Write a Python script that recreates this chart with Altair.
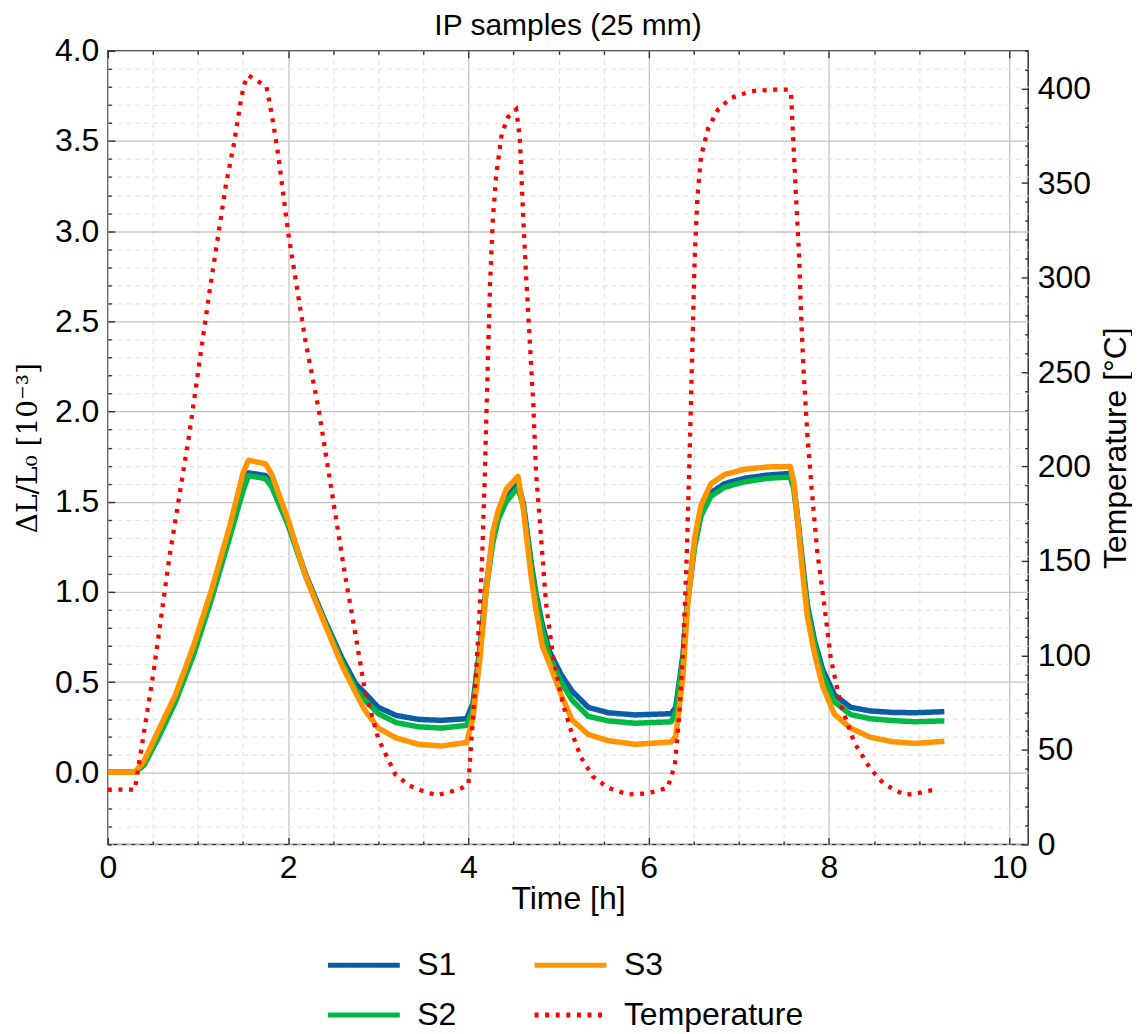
import altair as alt
import pandas as pd

# ---------------- data ----------------
t_strain = [0.00, 0.30, 0.40, 0.55, 0.75, 0.95, 1.15, 1.35, 1.50, 1.56,
            1.75, 1.82, 2.00, 2.20, 2.40, 2.60, 2.75, 2.85, 3.00, 3.20,
            3.45, 3.70, 3.98, 4.05, 4.13, 4.20, 4.27, 4.33, 4.42, 4.55,
            4.61, 4.65, 4.70, 4.75, 4.82, 4.90, 5.03, 5.15, 5.33, 5.55,
            5.85, 6.25, 6.30, 6.38, 6.43, 6.51, 6.58, 6.69, 6.84, 7.06,
            7.32, 7.57, 7.61, 7.66, 7.71, 7.76, 7.84, 7.93, 8.06, 8.24,
            8.46, 8.70, 8.95, 9.28]

s1 = [0.00, 0.00, 0.04, 0.19, 0.40, 0.66, 0.97, 1.31, 1.58, 1.66,
      1.645, 1.60, 1.38, 1.09, 0.85, 0.63, 0.49, 0.44, 0.36, 0.315,
      0.293, 0.288, 0.297, 0.38, 0.70, 1.04, 1.29, 1.42, 1.52, 1.60,
      1.49, 1.34, 1.15, 0.99, 0.82, 0.67, 0.54, 0.45, 0.36, 0.33,
      0.318, 0.325, 0.36, 0.65, 0.95, 1.27, 1.44, 1.55, 1.60, 1.63,
      1.648, 1.657, 1.59, 1.38, 1.15, 0.93, 0.73, 0.57, 0.43, 0.36,
      0.34, 0.332, 0.33, 0.336]

s2 = [0.00, 0.00, 0.04, 0.18, 0.39, 0.65, 0.96, 1.30, 1.56, 1.645,
      1.628, 1.58, 1.37, 1.08, 0.84, 0.61, 0.46, 0.40, 0.325, 0.275,
      0.252, 0.245, 0.26, 0.35, 0.68, 1.02, 1.27, 1.40, 1.50, 1.58,
      1.47, 1.32, 1.13, 0.97, 0.79, 0.64, 0.50, 0.40, 0.31, 0.285,
      0.272, 0.28, 0.33, 0.63, 0.93, 1.25, 1.42, 1.53, 1.58, 1.61,
      1.63, 1.637, 1.57, 1.36, 1.13, 0.91, 0.71, 0.54, 0.39, 0.32,
      0.297, 0.287, 0.28, 0.285]

s3 = [0.00, 0.00, 0.06, 0.22, 0.43, 0.70, 1.01, 1.36, 1.66, 1.73,
      1.71, 1.65, 1.40, 1.08, 0.83, 0.59, 0.44, 0.345, 0.245, 0.19,
      0.155, 0.146, 0.165, 0.30, 0.64, 1.02, 1.33, 1.45, 1.57, 1.64,
      1.46, 1.28, 1.07, 0.90, 0.70, 0.60, 0.43, 0.29, 0.21, 0.175,
      0.155, 0.168, 0.20, 0.53, 0.915, 1.30, 1.48, 1.60, 1.65, 1.68,
      1.693, 1.695, 1.61, 1.355, 1.095, 0.863, 0.657, 0.477, 0.322, 0.245,
      0.194, 0.17, 0.16, 0.172]

t_temp = [0.00, 0.30, 0.33, 0.37, 0.51, 0.68, 0.90, 1.12, 1.31, 1.40,
          1.47, 1.51, 1.56, 1.66, 1.76, 1.82, 1.89, 2.00, 2.19, 2.34,
          2.50, 2.63, 2.74, 2.85, 3.00, 3.19, 3.35, 3.48, 3.65, 3.81,
          3.92, 4.00, 4.03, 4.07, 4.11, 4.15, 4.18, 4.20, 4.22, 4.24,
          4.27, 4.31, 4.37, 4.44, 4.53, 4.57, 4.61, 4.64, 4.68, 4.72,
          4.75, 4.81, 4.86, 4.94, 5.05, 5.14, 5.25, 5.38, 5.55, 5.77,
          5.99, 6.21, 6.29, 6.34, 6.38, 6.42, 6.45, 6.47, 6.49, 6.51,
          6.54, 6.58, 6.66, 6.77, 6.91, 7.13, 7.38, 7.55, 7.58, 7.60,
          7.63, 7.67, 7.69, 7.72, 7.76, 7.81, 7.87, 7.95, 8.02, 8.13,
          8.28, 8.46, 8.61, 8.83, 8.94, 9.07, 9.18]

temp = [29, 29, 38, 50, 92, 151, 216, 290, 349, 371,
        392, 402, 407, 404, 401, 386, 365, 324, 267, 230,
        182, 143, 113, 82, 56, 37, 31, 28.5, 26, 28,
        29.7, 32, 53, 80, 111, 148, 192, 228, 262, 296,
        330, 355, 376, 385, 389, 374, 330, 301, 267, 233,
        197, 160, 128, 99, 74, 60, 46, 36, 30, 26.4,
        27, 30, 42, 69, 101, 150, 199, 236, 273, 310,
        342, 364, 379, 389, 395, 398.6, 399.4, 399.5, 397, 376.5,
        347, 310, 281, 249, 217, 187, 155, 126, 98.5, 74,
        54, 40, 32, 26.4, 26.6, 28, 29]

series_order = ["S1", "S2", "S3", "Temperature"]   # legend fills column by column
series_colors = ["#0C5DA5", "#00B945", "#FF9500", "#FF0000"]
series_dash = [[1, 0], [1, 0], [1, 0], [4, 6.6]]

x_major = [0, 2, 4, 6, 8, 10]
x_minor = [v / 2 for v in range(1, 20) if v % 4 != 0]
y_major = [i / 2 for i in range(0, 9)]
y_minor = [round(i / 10, 1) for i in range(-4, 40) if i % 5 != 0]
temp_major = list(range(0, 401, 50))
temp_minor = [i for i in range(10, 421, 10) if i % 50 != 0]

# ---------------- tables ----------------
rows = []
for name, vals in (("S1", s1), ("S2", s2), ("S3", s3)):
    for t, v in zip(t_strain, vals):
        rows.append({"t": t, "v": v, "series": name})
df_strain = pd.DataFrame(rows)
df_temp = pd.DataFrame({"t": t_temp, "v": temp, "series": "Temperature"})

# ---------------- styling ----------------
FONT = "Liberation Sans"
FS = 32
AX = "#333333"
W, H = 922, 795

xs = alt.Scale(domain=[0, 10.21], nice=False, zero=False)
ys = alt.Scale(domain=[-0.4, 4.0], nice=False, zero=False)
ts = alt.Scale(domain=[0, 420], nice=False, zero=False)

leg = alt.Legend(title=None, orient="none", legendX=218, legendY=900, columns=2,
                 symbolType="stroke", symbolSize=5184, symbolStrokeWidth=5,
                 clipHeight=32, labelFont=FONT, labelFontSize=FS, labelColor="black",
                 labelLimit=400, labelOffset=15, columnPadding=75, rowPadding=18)
color = alt.Color("series:N", scale=alt.Scale(domain=series_order, range=series_colors), legend=leg)
dash = alt.StrokeDash("series:N", scale=alt.Scale(domain=series_order, range=series_dash), legend=leg)


def tick_axis(orient, values, size):
    return alt.Axis(orient=orient, values=values, labels=False, domain=False, grid=False,
                    ticks=True, tickSize=size, tickWidth=1.4, tickColor=AX, offset=-size,
                    title=None)


def grid_axis(orient, values):
    return alt.Axis(orient=orient, values=values, labels=False, domain=False, ticks=False,
                    grid=True, gridColor="#e4e4e4", gridDash=[5, 4], gridWidth=1.1, title=None)


main_x = alt.Axis(orient="bottom", values=x_major, format="d", title="Time [h]", grid=True,
                  gridColor="#c4c4c4", gridWidth=1.3, ticks=False, domain=False,
                  labelFont=FONT, labelFontSize=FS, labelColor="black", labelPadding=8,
                  labelFlush=False, labelOverlap=False,
                  titleFont=FONT, titleFontSize=FS, titleFontWeight="normal",
                  titleColor="black", titlePadding=0)
main_y = alt.Axis(orient="left", values=y_major, format=".1f", title="ΔL/L₀ [10⁻³]", grid=True,
                  gridColor="#c4c4c4", gridWidth=1.3, ticks=False, domain=False,
                  labelFont=FONT, labelFontSize=FS, labelColor="black", labelPadding=9,
                  labelFlush=False, labelOverlap=False,
                  titleFont="DejaVu Serif", titleFontSize=28, titleFontWeight="normal",
                  titleColor="black", titlePadding=12)
temp_y = alt.Axis(orient="right", values=temp_major, format="d", title="Temperature [°C]",
                  grid=False, ticks=False, domain=False,
                  labelFont=FONT, labelFontSize=FS, labelColor="black", labelPadding=9,
                  labelFlush=False, labelOverlap=False,
                  titleFont=FONT, titleFontSize=FS, titleFontWeight="normal",
                  titleColor="black", titleAngle=270, titleBaseline="top", titlePadding=10)

bs = alt.Chart(df_strain)
bt = alt.Chart(df_temp)


def X(axis):
    return alt.X("t:Q", scale=xs, axis=axis, title=None)


def YS(axis):
    return alt.Y("v:Q", scale=ys, axis=axis, title=None)


def YT(axis):
    return alt.Y("v:Q", scale=ts, axis=axis, title=None)


grid_minor = bs.mark_point(opacity=0).encode(
    x=X(grid_axis("bottom", x_minor)), y=YS(grid_axis("left", y_minor)))

LW = 5.5
line_s1 = bs.transform_filter(alt.datum.series == "S1").mark_line(
    strokeWidth=LW, strokeJoin="round").encode(
    x=alt.X("t:Q", scale=xs, axis=main_x), y=alt.Y("v:Q", scale=ys, axis=main_y),
    color=color, strokeDash=dash)
line_s2 = bs.transform_filter(alt.datum.series == "S2").mark_line(
    strokeWidth=LW, strokeJoin="round").encode(
    x=X(None), y=YS(None), color=color, strokeDash=dash)
line_s3 = bs.transform_filter(alt.datum.series == "S3").mark_line(
    strokeWidth=LW, strokeJoin="round").encode(
    x=X(None), y=YS(None), color=color, strokeDash=dash)
line_t = bt.mark_line(strokeWidth=4.3, strokeCap="butt").encode(
    x=X(None), y=alt.Y("v:Q", scale=ts, axis=temp_y),
    color=color, strokeDash=dash)

tick_lb_major = bs.mark_point(opacity=0).encode(
    x=X(tick_axis("bottom", x_major, 7)), y=YS(tick_axis("left", y_major, 7)))
tick_lb_minor = bs.mark_point(opacity=0).encode(
    x=X(tick_axis("bottom", x_minor, 3.5)), y=YS(tick_axis("left", y_minor, 3.5)))
tick_tr_major = bt.mark_point(opacity=0).encode(
    x=X(tick_axis("top", x_major, 7)), y=YT(tick_axis("right", temp_major, 7)))
tick_tr_minor = bt.mark_point(opacity=0).encode(
    x=X(tick_axis("top", x_minor, 3.5)), y=YT(tick_axis("right", temp_minor, 3.5)))

chart = alt.layer(
    grid_minor, line_s1, line_s2, line_s3, line_t,
    tick_lb_major, tick_lb_minor, tick_tr_major, tick_tr_minor
).resolve_scale(y="independent").resolve_axis(x="independent", y="independent").properties(
    width=W, height=H,
    title=alt.TitleParams("IP samples (25 mm)", font=FONT, fontSize=30, fontWeight="normal",
                          color="black", anchor="middle", offset=-6),
    padding={"left": 6, "right": 0, "top": 2, "bottom": 0},
).configure_view(stroke=AX, strokeWidth=1.5)

chart.save("out.html", embed_options={"renderer": "svg", "actions": False})
